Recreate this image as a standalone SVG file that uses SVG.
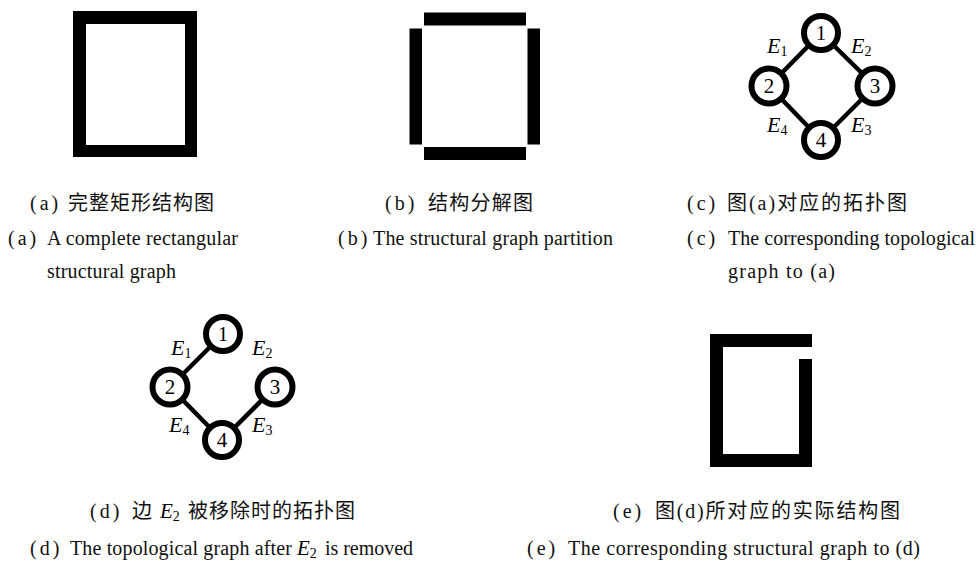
<svg xmlns="http://www.w3.org/2000/svg" width="976" height="561" viewBox="0 0 976 561">
<style>
.bar{fill:#000}
.edge{stroke:#000;stroke-width:4.5}
.node{fill:#fff;stroke:#000;stroke-width:6}
.num{font-family:"Liberation Serif",serif;font-size:21px;text-anchor:middle;fill:#000}
.el{font-family:"Liberation Serif",serif;font-size:22px;font-style:italic;fill:#000}
.sub{font-size:14px;font-style:normal}
.cn{font-family:"Liberation Serif","Noto Sans CJK SC",serif;font-size:20px;fill:#111}
.en{font-family:"Liberation Serif",serif;font-size:20px;fill:#111}
.lab{font-family:"Liberation Serif",serif;font-size:20px;fill:#111;letter-spacing:3px}
</style>
<rect width="976" height="561" fill="#fff"/>

<!-- (a) complete rectangle -->
<g id="rect-a">
<path class="bar" fill-rule="evenodd" d="M73,11 H197 V157 H73 Z M86,24 V145 H185 V24 Z"/>
</g>

<!-- (b) partition -->
<g id="rect-b">
<rect class="bar" x="424" y="12.5" width="102" height="13"/>
<rect class="bar" x="409.5" y="28.5" width="12.5" height="116"/>
<rect class="bar" x="527.5" y="28.5" width="12.5" height="116"/>
<rect class="bar" x="424" y="147" width="102" height="13"/>
</g>

<!-- (c) topology -->
<g id="connectors-c">
<line class="edge" x1="821" y1="33" x2="769" y2="86"/>
<line class="edge" x1="821" y1="33" x2="875" y2="86"/>
<line class="edge" x1="769" y1="86" x2="821" y2="140"/>
<line class="edge" x1="875" y1="86" x2="821" y2="140"/>
</g>
<g id="c-node1"><circle class="node" cx="821" cy="33" r="17"/><text class="num" x="821" y="40">1</text></g>
<g id="c-node2"><circle class="node" cx="769" cy="86" r="17.5"/><text class="num" x="769" y="93">2</text></g>
<g id="c-node3"><circle class="node" cx="875" cy="86" r="17.5"/><text class="num" x="875" y="93">3</text></g>
<g id="c-node4"><circle class="node" cx="821" cy="140" r="17"/><text class="num" x="821" y="147">4</text></g>
<g id="c-labels">
<text class="el" x="767" y="53">E<tspan class="sub" dy="3">1</tspan></text>
<text class="el" x="851" y="53">E<tspan class="sub" dy="3">2</tspan></text>
<text class="el" x="767" y="132">E<tspan class="sub" dy="3">4</tspan></text>
<text class="el" x="851" y="132">E<tspan class="sub" dy="3">3</tspan></text>
</g>

<!-- (d) topology without E2 -->
<g id="connectors-d">
<line class="edge" x1="223" y1="334" x2="170" y2="387"/>
<line class="edge" x1="170" y1="387" x2="222" y2="440"/>
<line class="edge" x1="275" y1="387" x2="222" y2="440"/>
</g>
<g id="d-node1"><circle class="node" cx="223" cy="334" r="17"/><text class="num" x="223" y="341">1</text></g>
<g id="d-node2"><circle class="node" cx="170" cy="387" r="17.5"/><text class="num" x="170" y="394">2</text></g>
<g id="d-node3"><circle class="node" cx="275" cy="387" r="17.5"/><text class="num" x="275" y="394">3</text></g>
<g id="d-node4"><circle class="node" cx="222" cy="440" r="17"/><text class="num" x="222" y="447">4</text></g>
<g id="d-labels">
<text class="el" x="171" y="355">E<tspan class="sub" dy="3">1</tspan></text>
<text class="el" x="252" y="355">E<tspan class="sub" dy="3">2</tspan></text>
<text class="el" x="169" y="432">E<tspan class="sub" dy="3">4</tspan></text>
<text class="el" x="252" y="432">E<tspan class="sub" dy="3">3</tspan></text>
</g>

<!-- (e) structure -->
<g id="rect-e">
<path class="bar" d="M710,334 H812 V347 H723 V454 H799 V359 H812 V467 H710 Z"/>
</g>

<!-- captions -->
<g id="captions">
<text class="lab" x="30" y="210">(a)</text>
<text class="cn" x="68" y="210" textLength="146" lengthAdjust="spacing">完整矩形结构图</text>
<text class="lab" x="8" y="245">(a)</text>
<text class="en" x="47" y="245" textLength="191" lengthAdjust="spacing">A complete rectangular</text>
<text class="en" x="47" y="278" textLength="129" lengthAdjust="spacing">structural graph</text>

<text class="lab" x="385" y="210">(b)</text>
<text class="cn" x="428" y="210" textLength="105" lengthAdjust="spacing">结构分解图</text>
<text class="lab" x="338" y="245">(b)</text>
<text class="en" x="373" y="245" textLength="240" lengthAdjust="spacing">The structural graph partition</text>

<text class="lab" x="687" y="210">(c)</text>
<text class="cn" x="727" y="210" textLength="180" lengthAdjust="spacing">图(a)对应的拓扑图</text>
<text class="lab" x="687" y="245">(c)</text>
<text class="en" x="728" y="245" textLength="247" lengthAdjust="spacing">The corresponding topological</text>
<text class="en" x="728" y="278" textLength="107" lengthAdjust="spacing">graph to (a)</text>

<text class="lab" x="90" y="518">(d)</text>
<text class="cn" x="132" y="518">边</text>
<text class="el" x="160" y="518" style="font-size:21px">E<tspan class="sub" dy="3">2</tspan></text>
<text class="cn" x="188" y="518" textLength="167" lengthAdjust="spacing">被移除时的拓扑图</text>
<text class="lab" x="30" y="555">(d)</text>
<text class="en" x="70" y="555" textLength="222" lengthAdjust="spacing">The topological graph after</text>
<text class="el" x="297" y="555" style="font-size:21px">E<tspan class="sub" dy="3">2</tspan></text>
<text class="en" x="325" y="555" textLength="88" lengthAdjust="spacing">is removed</text>

<text class="lab" x="613" y="518">(e)</text>
<text class="cn" x="655" y="518" textLength="245" lengthAdjust="spacing">图(d)所对应的实际结构图</text>
<text class="lab" x="527" y="555">(e)</text>
<text class="en" x="568" y="555" textLength="352" lengthAdjust="spacing">The corresponding structural graph to (d)</text>
</g>
</svg>
